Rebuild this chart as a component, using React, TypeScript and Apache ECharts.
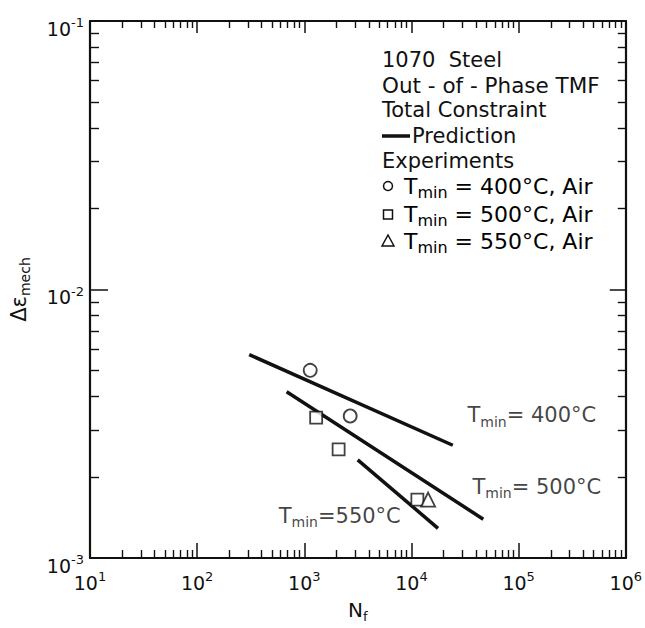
import React, { useEffect, useRef } from "react";
import * as echarts from "echarts";

// ---- data ----
const circleN = [1135, 2680];
const circleStrain = [5.0e-3, 3.38e-3];
const squareN = [1290, 2090, 11350];
const squareStrain = [3.33e-3, 2.54e-3, 1.65e-3];
const triangleN = [14300];
const triangleStrain = [1.65e-3];

const pred400N = [306, 24300];
const pred400 = [5.72e-3, 2.63e-3];
const pred500N = [684, 46800];
const pred500 = [4.16e-3, 1.395e-3];
const pred550N = [3150, 17700];
const pred550 = [2.32e-3, 1.29e-3];

const lineLabelTemps = ["= 400°C", "= 500°C", "=550°C"];
const lineLabelN = [33300, 37100, 577];
const lineLabelStrain = [3.36e-3, 1.82e-3, 1.42e-3];

const xDecades = [10, 100, 1000, 10000, 100000];
const yDecades = [0.001, 0.01];
const mantissas = [2, 3, 4, 5, 6, 7, 8, 9];

const legendLines = ["1070  Steel", "Out - of - Phase TMF", "Total Constraint", "Prediction", "Experiments"];
const legendTemps = [" = 400°C, Air", " = 500°C, Air", " = 550°C, Air"];

const X_MIN = 10, X_MAX = 1e6, Y_MIN = 1e-3, Y_MAX = 1e-1;
const FONT = "DejaVu Sans";
const INK = "#111";

const xMinor = xDecades.flatMap((d) => mantissas.map((m) => m * d));
const yMinor = yDecades.flatMap((d) => mantissas.map((m) => m * d));

const zip = (a: number[], b: number[]) => a.map((v, i) => [v, b[i]]);

const tickRich = {
  b: { fontFamily: FONT, fontSize: 19, color: INK, lineHeight: 22, verticalAlign: "bottom" },
  p: { fontFamily: FONT, fontSize: 13, color: INK, lineHeight: 12, verticalAlign: "top" },
};

const subRich = (size: number, sub: number) => ({
  t: { fontFamily: FONT, fontSize: size, color: INK, lineHeight: size + 3, verticalAlign: "top" },
  s: { fontFamily: FONT, fontSize: sub, color: INK, lineHeight: 10, verticalAlign: "bottom" },
});

export default function App() {
  const ref = useRef<HTMLDivElement>(null);
  useEffect(() => {
    document.body.style.margin = "0";
    const chart = echarts.init(ref.current!, undefined, { renderer: "svg" });

    const logX = (extra: any) => ({
      type: "log",
      logBase: 10,
      min: X_MIN,
      max: X_MAX,
      splitNumber: 5,
      splitLine: { show: false },
      ...extra,
    });
    const logY = (extra: any) => ({
      type: "log",
      logBase: 10,
      min: Y_MIN,
      max: Y_MAX,
      splitNumber: 2,
      splitLine: { show: false },
      ...extra,
    });
    const minorTick = (vals: number[], len: number) => ({
      show: true,
      inside: true,
      length: len,
      customValues: vals,
      lineStyle: { color: INK, width: 1.4 },
    });

    const predLine = (n: number[], s: number[]) => ({
      type: "line",
      data: zip(n, s),
      symbol: "none",
      lineStyle: { color: INK, width: 3.5 },
      silent: true,
    });

    const scatter = (n: number[], s: number[], symbol: string, size: number) => ({
      type: "scatter",
      data: zip(n, s),
      symbol,
      symbolSize: size,
      itemStyle: { color: "#fff", borderColor: INK, borderWidth: 1.8 },
      z: 5,
    });

    const legendX = 382;
    const legendY = [60, 85, 110, 136, 161, 188, 216, 243];
    const legendFont = 21;
    const graphics: any[] = [];
    legendLines.forEach((txt, i) => {
      const isPred = txt === "Prediction";
      graphics.push({
        type: "text",
        x: isPred ? legendX + 30 : legendX,
        y: legendY[i],
        style: {
          text: txt,
          font: `${i === 1 ? 21.5 : legendFont}px "${FONT}"`,
          fill: INK,
          verticalAlign: "middle",
        },
      });
      if (isPred) {
        graphics.push({
          type: "line",
          shape: { x1: legendX, y1: legendY[i], x2: legendX + 28, y2: legendY[i] },
          style: { stroke: INK, lineWidth: 3.5 },
        });
      }
    });
    legendTemps.forEach((txt, i) => {
      const y = legendY[5 + i];
      graphics.push({
        type: "text",
        x: legendX + 22,
        y,
        style: {
          text: `{t|T}{s|min}{t|${txt}}`,
          rich: subRich(22, 16),
          verticalAlign: "middle",
        },
      });
      const st = { fill: "#fff", stroke: INK, lineWidth: 1.5 };
      const cx = legendX + 6;
      if (i === 0) graphics.push({ type: "circle", shape: { cx, cy: y - 2, r: 4.5 }, style: st });
      if (i === 1) graphics.push({ type: "rect", shape: { x: cx - 4.5, y: y - 6, width: 9, height: 9 }, style: st });
      if (i === 2)
        graphics.push({
          type: "polygon",
          shape: { points: [[cx, y - 8], [cx + 6, y + 3], [cx - 6, y + 3]] },
          style: st,
        });
    });

    const option: any = {
      animation: false,
      backgroundColor: "#fff",
      grid: { left: 86, top: 21, right: 13, bottom: 63, containLabel: false },
      xAxis: [
        logX({
          position: "bottom",
          axisLine: { lineStyle: { color: INK, width: 2.2 } },
          axisTick: { inside: true, length: 15, lineStyle: { color: INK, width: 1.5 } },
          axisLabel: {
            margin: 12,
            formatter: (v: number) => `{b|10}{p|${Math.round(Math.log10(v))}}`,
            rich: tickRich,
          },
          name: "{t|N}{s|f}",
          nameLocation: "middle",
          nameGap: 42,
          nameTextStyle: { rich: subRich(20, 13) },
        }),
        logX({
          position: "top",
          axisLine: { lineStyle: { color: INK, width: 2.2 } },
          axisTick: { inside: true, length: 12, lineStyle: { color: INK, width: 1.5 } },
          axisLabel: { show: false },
        }),
        logX({
          position: "bottom",
          axisLine: { show: false },
          axisTick: minorTick(xMinor, 8),
          axisLabel: { show: false },
        }),
        logX({
          position: "top",
          axisLine: { show: false },
          axisTick: minorTick(xMinor, 7),
          axisLabel: { show: false },
        }),
      ],
      yAxis: [
        logY({
          position: "left",
          axisLine: { lineStyle: { color: INK, width: 2.2 } },
          axisTick: { inside: true, length: 18, lineStyle: { color: INK, width: 1.5 } },
          axisLabel: {
            margin: 6,
            padding: [12, 0, 0, 0],
            formatter: (v: number) => `{b|10}{p|${Math.round(Math.log10(v))}}`,
            rich: tickRich,
          },
          name: "{t|Δε}{s|mech}",
          nameLocation: "middle",
          nameRotate: 90,
          nameGap: 58,
          nameTextStyle: { rich: subRich(21, 14) },
        }),
        logY({
          position: "right",
          axisLine: { lineStyle: { color: INK, width: 2.2 } },
          axisTick: { inside: true, length: 16, lineStyle: { color: INK, width: 1.5 } },
          axisLabel: { show: false },
        }),
        logY({
          position: "left",
          axisLine: { show: false },
          axisTick: minorTick(yMinor, 9),
          axisLabel: { show: false },
        }),
        logY({
          position: "right",
          axisLine: { show: false },
          axisTick: minorTick(yMinor, 8),
          axisLabel: { show: false },
        }),
      ],
      series: [
        predLine(pred400N, pred400),
        predLine(pred500N, pred500),
        predLine(pred550N, pred550),
        scatter(circleN, circleStrain, "circle", 13),
        scatter(squareN, squareStrain, "rect", 12),
        scatter(triangleN, triangleStrain, "triangle", 14),
        {
          type: "scatter",
          silent: true,
          symbolSize: 0,
          data: zip(lineLabelN, lineLabelStrain),
          label: {
            show: true,
            position: "right",
            distance: 0,
            formatter: (p: any) => `{t|T}{s|min}{t|${lineLabelTemps[p.dataIndex]}}`,
            rich: subRich(21, 14),
          },
        },
      ],
      graphic: graphics,
    };
    chart.setOption(option);
    return () => chart.dispose();
  }, []);
  return <div ref={ref} style={{ width: 645, height: 628 }} />;
}
